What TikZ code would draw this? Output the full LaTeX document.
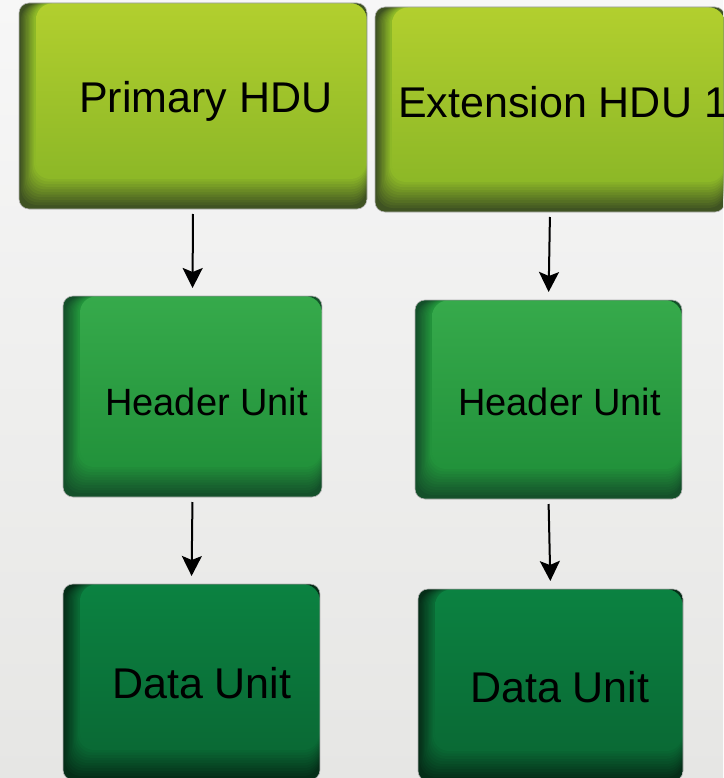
\documentclass[tikz,border=0pt]{standalone}
\usepackage{fontspec}
\setmainfont{Liberation Sans}
\usetikzlibrary{arrows.meta,calc}
\definecolor{bgtop}{HTML}{F7F7F7}
\definecolor{bgbot}{HTML}{E6E6E4}
\definecolor{limetop}{HTML}{B2CF2E}
\definecolor{limebot}{HTML}{8DB827}
\definecolor{limerim}{HTML}{3F5322}
\definecolor{hdrtop}{HTML}{36AA4B}
\definecolor{hdrbot}{HTML}{22923B}
\definecolor{hdrrim}{HTML}{14502A}
\definecolor{dattop}{HTML}{0B8241}
\definecolor{datbot}{HTML}{0A6A35}
\definecolor{datrim}{HTML}{052E18}

\tikzset{
  bevel/.style n args={3}{% face top, face bottom, rim
    draw=black!30, line width=0.6pt, rounded corners=10pt,
    inner sep=0pt, outer sep=0pt, anchor=north west,
    path picture={
      \fill[#3] (path picture bounding box.south west) rectangle (path picture bounding box.north east);
      \foreach \k [evaluate=\k as \m using int(9*\k+10)] in {0,...,10}
        \fill[#2!\m!#3, rounded corners=16pt]
          ($(path picture bounding box.south west)+(2pt+1.3*\k pt,4pt+2.6*\k pt)$)
          rectangle ($(path picture bounding box.north east)+(-0.5pt,-0.5pt)$);
      \shade[top color=#1, bottom color=#2, rounded corners=16pt]
          ($(path picture bounding box.south west)+(17pt,32pt)$)
          rectangle ($(path picture bounding box.north east)+(-0.5pt,-0.5pt)$);
    }},
  lbl/.style={anchor=base west, inner sep=0pt, text=black},
  conn/.style={line width=2pt, shorten <=5pt, shorten >=8pt,
    >={Stealth[length=20pt,width=20pt,inset=4pt]}, ->},
}

\begin{document}
\begin{tikzpicture}[x=1pt,y=-1pt]
\clip (0,0) rectangle (723,778);
% backdrop
\shade[top color=bgtop, bottom color=bgbot] (0,0) rectangle (723,778);
% HDU row
\node[bevel={limetop}{limebot}{limerim}, minimum width=348pt, minimum height=206pt] (p) at (19,3) {};
\node[bevel={limetop}{limebot}{limerim}, minimum width=350pt, minimum height=205pt] (e) at (375,7) {};
\node[lbl, font=\fontsize{43}{48}\selectfont] (tp) at (79,113) {Primary HDU};
\node[lbl, font=\fontsize{43}{48}\selectfont] (te) at (398,118) {Extension HDU 1};
% header units
\node[bevel={hdrtop}{hdrbot}{hdrrim}, minimum width=259pt, minimum height=201pt] (hl) at (63,296) {};
\node[bevel={hdrtop}{hdrbot}{hdrrim}, minimum width=267pt, minimum height=199pt] (hr) at (415,300) {};
\node[lbl, font=\fontsize{38}{44}\selectfont] (thl) at (105,415) {Header Unit};
\node[lbl, font=\fontsize{38}{44}\selectfont] (thr) at (458,415) {Header Unit};
% data units
\node[bevel={dattop}{datbot}{datrim}, minimum width=257pt, minimum height=196pt] (dl) at (63,584) {};
\node[bevel={dattop}{datbot}{datrim}, minimum width=265pt, minimum height=192pt] (dr) at (418,589) {};
\node[lbl, font=\fontsize{43}{48}\selectfont] (tdl) at (112,698) {Data Unit};
\node[lbl, font=\fontsize{43}{48}\selectfont] (tdr) at (470,702) {Data Unit};
% arrows
\draw[conn] (p.south) -- (hl.north);
\draw[conn] (e.south) -- (hr.north);
\draw[conn] (hl.south) -- (dl.north);
\draw[conn] (hr.south) -- (dr.north);
\end{tikzpicture}
\end{document}
